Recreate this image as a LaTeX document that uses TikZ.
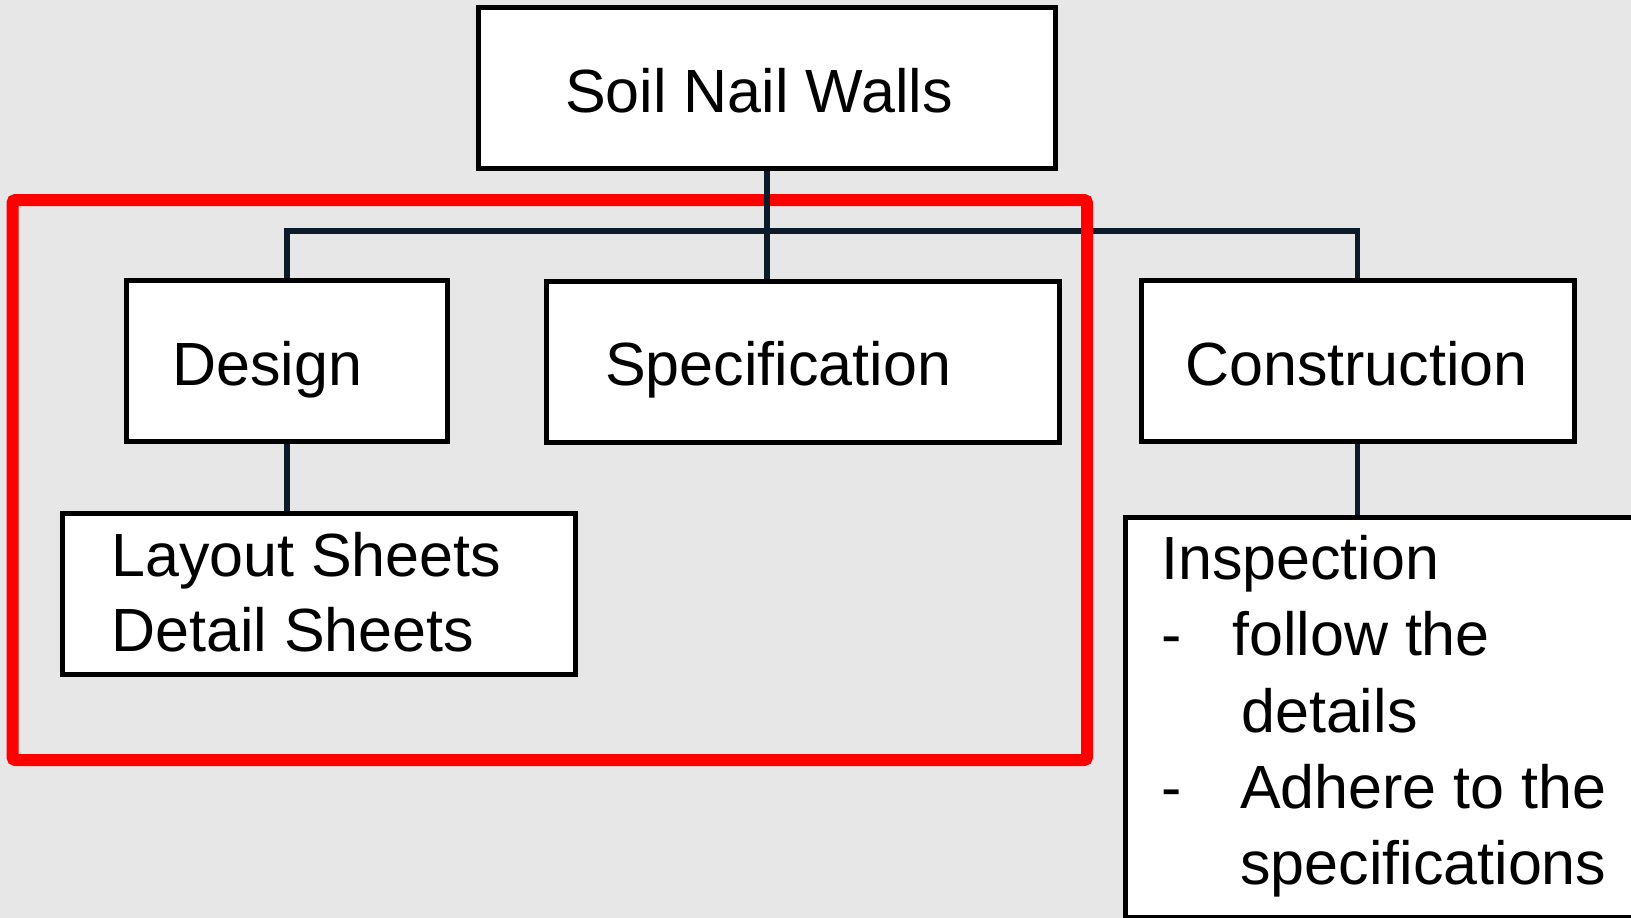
\documentclass[tikz,border=0pt]{standalone}
\usepackage{fontspec}
\setmainfont{Liberation Sans}
\begin{document}
\begin{tikzpicture}[x=1pt,y=-1pt,
  box/.style={draw=black,line width=5pt,fill=white,rectangle,inner sep=0pt},
  conn/.style={draw=connc,line width=5.5pt},
  txt/.style={anchor=base west,inner sep=0pt,font=\fontsize{61}{76}\selectfont}]
\definecolor{bg}{HTML}{E7E7E7}
\definecolor{connc}{HTML}{0C1A2A}
\definecolor{redc}{HTML}{FF0000}
\fill[bg] (0,0) rectangle (1631,918);
\useasboundingbox (0,0) rectangle (1631,918);
% boxes
\node[box,minimum width=577pt,minimum height=161pt] (top) at (767,87.5) {};
\node[box,minimum width=321pt,minimum height=161pt] (design) at (287,360.5) {};
\node[box,minimum width=513pt,minimum height=161pt] (spec) at (802.5,361.5) {};
\node[box,minimum width=433pt,minimum height=161pt] (cons) at (1357.5,360.5) {};
\node[box,minimum width=513pt,minimum height=161pt] (layout) at (318.5,593.5) {};
\node[box,minimum width=600pt,minimum height=400pt] (insp) at (1425.5,717) {};
% connectors
\coordinate (busL) at (287,231);
\coordinate (busR) at (1357.5,231);
\draw[conn] (design.north) -- (busL) -- (busR) -- (cons.north);
\draw[conn] (design.south) -- (design.south |- layout.north);
\draw[conn] (cons.south) -- (cons.south |- insp.north);
% highlight
\draw[draw=redc,line width=12pt,rounded corners=3pt] (12.5,200) rectangle (1087,760);
\draw[conn] (top.south) -- (top.south |- spec.north);
% texts
\node[txt] (tTop) at (565,112) {Soil Nail Walls};
\node[txt] (tDesign) at (172,385) {Design};
\node[txt] (tSpec) at (605,385) {Specification};
\node[txt] (tCons) at (1185,385) {Construction};
\node[txt] (tLay1) at (111,576) {Layout Sheets};
\node[txt] (tLay2) at (111,651) {Detail Sheets};
\node[txt] (tIns) at (1161,579) {Inspection};
\node[txt] (tD1) at (1161,655) {-};
\node[txt] (tI1) at (1232,655) {follow the};
\node[txt] (tI2) at (1241,732) {details};
\node[txt] (tD2) at (1161,808) {-};
\node[txt] (tI3) at (1240,808) {Adhere to the};
\node[txt] (tI4) at (1240,884) {specifications};
\end{tikzpicture}
\end{document}
